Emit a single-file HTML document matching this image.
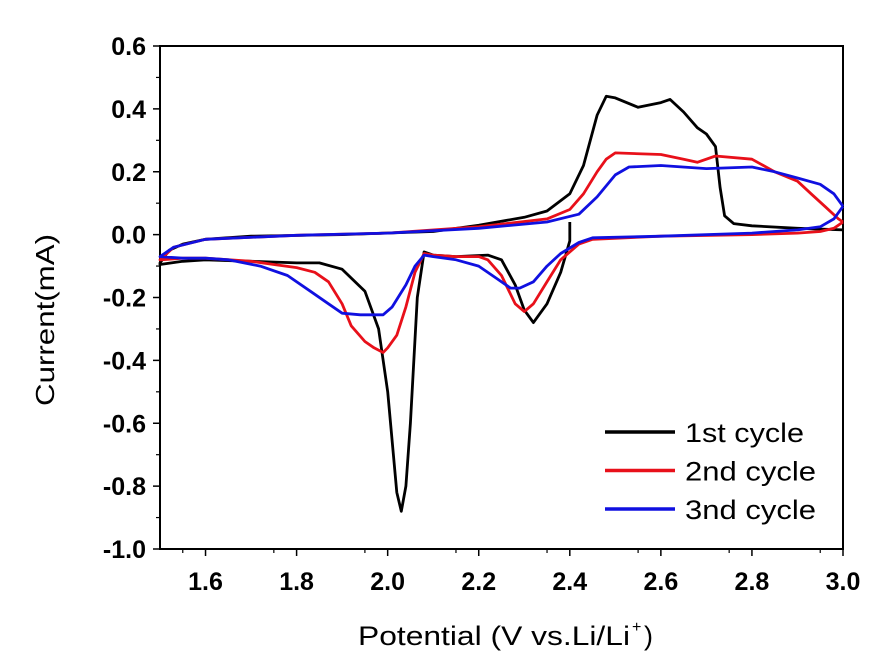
<!DOCTYPE html>
<html><head><meta charset="utf-8"><style>
body{margin:0;background:#fff}
svg text{font-family:"Liberation Sans",Arial,sans-serif}
</style></head><body>
<svg id="chart" width="890" height="664" xmlns="http://www.w3.org/2000/svg">
<g id="axes"></g><g id="series"></g><g id="legend"></g>
</svg>
<script>
const xTicks=[1.6,1.8,2.0,2.2,2.4,2.6,2.8,3.0];
const yTicks=[0.6,0.4,0.2,0.0,-0.2,-0.4,-0.6,-0.8,-1.0];
const seriesNames=["1st cycle","2nd cycle","3nd cycle"];
const seriesColors=["#000000","#e8101a","#1010e0"];
const c1V=[2.40,2.40,2.38,2.35,2.32,2.30,2.28,2.25,2.22,2.15,2.10,2.08,2.065,2.05,2.04,2.03,2.02,2.00,1.98,1.95,1.90,1.85,1.80,1.70,1.60,1.55,1.50,1.50,1.52,1.55,1.60,1.70,1.90,2.10,2.20,2.30,2.35,2.40,2.43,2.46,2.48,2.50,2.55,2.60,2.62,2.65,2.68,2.70,2.72,2.73,2.74,2.76,2.80,2.90,3.00];
const c1I=[0.04,-0.02,-0.12,-0.22,-0.28,-0.24,-0.16,-0.08,-0.065,-0.07,-0.065,-0.055,-0.2,-0.6,-0.8,-0.88,-0.82,-0.5,-0.3,-0.18,-0.11,-0.09,-0.09,-0.085,-0.08,-0.085,-0.095,-0.09,-0.05,-0.03,-0.015,-0.005,0.0,0.01,0.03,0.055,0.075,0.13,0.22,0.38,0.44,0.435,0.405,0.42,0.43,0.39,0.34,0.32,0.28,0.15,0.06,0.035,0.028,0.02,0.015];
const c2V=[3.0,2.98,2.95,2.9,2.8,2.6,2.45,2.42,2.38,2.35,2.32,2.30,2.28,2.25,2.22,2.2,2.15,2.1,2.08,2.06,2.04,2.02,2.00,1.99,1.97,1.95,1.92,1.9,1.87,1.84,1.8,1.75,1.7,1.6,1.55,1.5,1.5,1.53,1.6,1.8,2.0,2.2,2.35,2.4,2.43,2.46,2.48,2.5,2.6,2.65,2.68,2.72,2.8,2.85,2.9,2.93,2.96,2.99,3.0];
const c2I=[0.04,0.02,0.01,0.005,0.0,-0.005,-0.015,-0.03,-0.08,-0.15,-0.22,-0.245,-0.22,-0.13,-0.08,-0.07,-0.07,-0.065,-0.06,-0.12,-0.23,-0.32,-0.36,-0.375,-0.36,-0.34,-0.29,-0.22,-0.15,-0.12,-0.105,-0.095,-0.085,-0.075,-0.075,-0.08,-0.08,-0.04,-0.015,-0.002,0.005,0.025,0.05,0.08,0.13,0.2,0.24,0.26,0.255,0.24,0.23,0.25,0.24,0.2,0.17,0.13,0.09,0.05,0.04];
const c3V=[3.0,2.98,2.95,2.9,2.8,2.6,2.45,2.42,2.38,2.35,2.32,2.29,2.27,2.24,2.2,2.15,2.1,2.08,2.06,2.04,2.01,1.99,1.97,1.94,1.9,1.87,1.83,1.78,1.72,1.65,1.6,1.55,1.5,1.5,1.53,1.6,1.8,2.0,2.2,2.35,2.42,2.46,2.5,2.53,2.6,2.7,2.8,2.85,2.9,2.95,2.98,3.0];
const c3I=[0.09,0.05,0.025,0.015,0.005,-0.005,-0.01,-0.025,-0.06,-0.1,-0.15,-0.17,-0.17,-0.14,-0.1,-0.08,-0.07,-0.065,-0.1,-0.16,-0.23,-0.255,-0.255,-0.255,-0.25,-0.22,-0.18,-0.13,-0.1,-0.08,-0.075,-0.075,-0.07,-0.07,-0.04,-0.015,-0.002,0.005,0.02,0.04,0.065,0.12,0.19,0.215,0.22,0.21,0.215,0.2,0.18,0.16,0.13,0.09];

const NS="http://www.w3.org/2000/svg";
const L=160,R=843,T=46,B=549;
const xS=v=>L+(v-1.5)/1.5*(R-L);
const yS=v=>T+(0.6-v)/1.6*(B-T);
function mk(tag,attrs,parent){const e=document.createElementNS(NS,tag);for(const k in attrs)e.setAttribute(k,attrs[k]);parent.appendChild(e);return e;}
const ax=document.getElementById('axes');
let fr=mk('rect',{x:L,y:T,width:R-L,height:B-T,fill:'none',stroke:'#000','stroke-width':2},ax);


xTicks.forEach(t=>{
  const x=xS(t);
  let ln=mk('line',{x1:x,x2:x,y1:B,y2:B+7,stroke:'#000','stroke-width':1.5},ax);
  
  
  let mx=xS(t-0.05);
  let m=mk('line',{x1:mx,x2:mx,y1:B,y2:B+4,stroke:'#000','stroke-width':1.2},ax);
  
  
  let tx=mk('text',{x:x,y:B+41,'text-anchor':'middle','font-size':25,'font-weight':'bold'},ax);
  tx.textContent=t.toFixed(1);
  
  
});
yTicks.forEach(t=>{
  const y=yS(t);
  let ln=mk('line',{x1:L-7,x2:L,y1:y,y2:y,stroke:'#000','stroke-width':1.5},ax);
  
  
  if(t<0.6){let my=yS(t+0.1);
  let m=mk('line',{x1:L-4,x2:L,y1:my,y2:my,stroke:'#000','stroke-width':1.2},ax);
  
  }
  let tx=mk('text',{x:L-14,y:y+9,'text-anchor':'end','font-size':25,'font-weight':'bold'},ax);
  tx.textContent=t.toFixed(1);
  
  
});
let xt=mk('text',{x:358,y:645,'font-size':27,textLength:272,lengthAdjust:'spacingAndGlyphs'},ax);
xt.textContent='Potential (V vs.Li/Li';


let sup=mk('text',{x:632,y:632,'font-size':16},ax);
sup.textContent='+';


let cp=mk('text',{x:644,y:645,'font-size':27},ax);
cp.textContent=')';


let yt=mk('text',{x:0,y:0,'text-anchor':'middle','font-size':26,textLength:172,lengthAdjust:'spacingAndGlyphs',transform:'translate(54,320) rotate(-90)'},ax);
yt.textContent='Current(mA)';



const sg=document.getElementById('series');
[[c1V,c1I],[c2V,c2I],[c3V,c3I]].forEach((s,i)=>{
  const d=s[0].map((v,j)=>(j?'L':'M')+xS(v).toFixed(1)+','+yS(s[1][j]).toFixed(1)).join('');
  let p=mk('path',{d:d,fill:'none',stroke:seriesColors[i],'stroke-width':2.8,'stroke-linejoin':'round'},sg);
  
  
});
const lg=document.getElementById('legend');
const legendLens=[119,131,131];
seriesNames.forEach((n,i)=>{
  const y=432+i*38.5;
  let ln=mk('line',{x1:605,x2:675,y1:y,y2:y,stroke:seriesColors[i],'stroke-width':3.5},lg);
  
  
  let tx=mk('text',{x:685,y:y+10,'font-size':27,textLength:legendLens[i],lengthAdjust:'spacingAndGlyphs'},lg);
  tx.textContent=n;
  
  
});
</script>
</body></html>
